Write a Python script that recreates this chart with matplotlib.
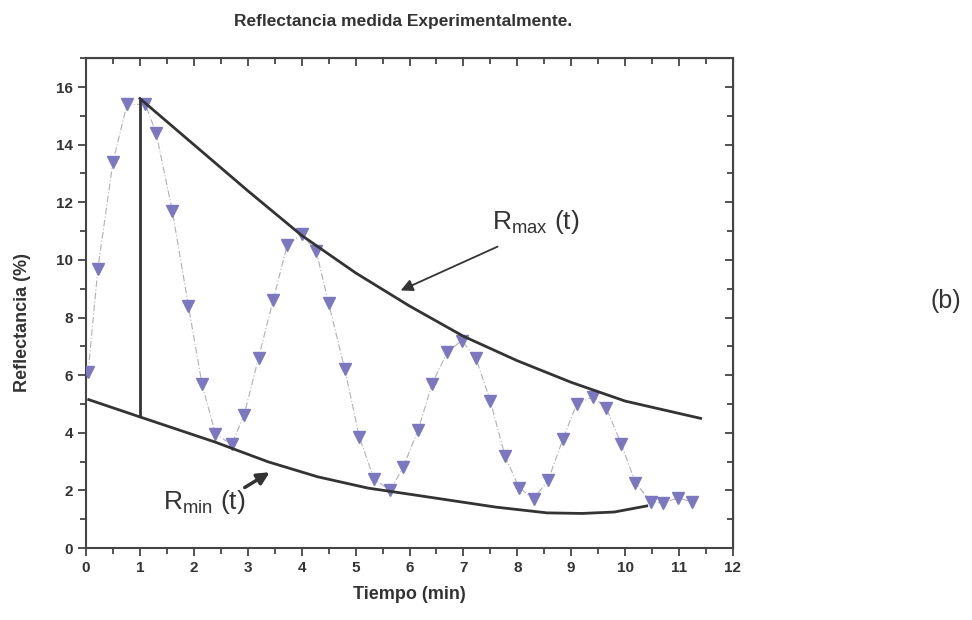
import numpy as np
import matplotlib
matplotlib.use("Agg")
import matplotlib.pyplot as plt
from matplotlib.ticker import MultipleLocator

plt.rcParams['font.family'] = ['Liberation Sans', 'DejaVu Sans']
plt.rcParams['mathtext.fontset'] = 'custom'
plt.rcParams['mathtext.rm'] = 'Liberation Sans'
plt.rcParams['mathtext.it'] = 'Liberation Sans'

# medidas experimentales
t = [0.04, 0.22, 0.5, 0.76, 1.1, 1.3, 1.6, 1.9, 2.15, 2.4, 2.7, 2.93, 3.2, 3.47,
     3.73, 4.0, 4.27, 4.5, 4.8, 5.07, 5.34, 5.64, 5.88, 6.16, 6.42, 6.7, 6.97,
     7.23, 7.5, 7.77, 8.03, 8.3, 8.57, 8.85, 9.1, 9.4, 9.65, 9.93, 10.19, 10.48,
     10.7, 10.98, 11.24]
R = [6.1, 9.7, 13.4, 15.4, 15.4, 14.4, 11.7, 8.4, 5.7, 3.96, 3.6, 4.6, 6.6, 8.6,
     10.5, 10.9, 10.3, 8.5, 6.2, 3.85, 2.4, 2.0, 2.8, 4.1, 5.7, 6.8, 7.2,
     6.6, 5.1, 3.2, 2.1, 1.7, 2.35, 3.8, 5.0, 5.25, 4.86, 3.6, 2.26, 1.6,
     1.56, 1.74, 1.6]

# envolventes
t_max = [1.0, 2.0, 3.0, 4.0, 5.0, 6.0, 7.0, 8.0, 9.0, 10.0, 11.4]
R_max = [15.6, 14.0, 12.4, 10.85, 9.55, 8.4, 7.35, 6.5, 5.75, 5.1, 4.5]
t_min = [0.05, 1.0, 2.39, 3.38, 4.3, 5.23, 6.1, 7.6, 8.55, 9.2, 9.8, 10.4]
R_min = [5.15, 4.55, 3.68, 2.99, 2.47, 2.08, 1.84, 1.42, 1.22, 1.2, 1.25, 1.46]

txt = '#333333'
fig = plt.figure(figsize=(9.72, 6.2), dpi=100)
ax = fig.add_axes([0.0885, 0.1161, 0.6656, 0.790])

ax.plot(t, R, color='#b0b0b8', lw=0.8, ls=(0, (6, 2, 1, 2)), zorder=2)
ax.plot(t, R, 'v', color='#7b78c0', ms=9, mec='#7b78c0', ls='none', zorder=3)

ax.plot(t_max, R_max, color='#333333', lw=2, zorder=4)
ax.plot(t_min, R_min, color='#333333', lw=2, zorder=4)
ax.vlines(t_max[0], R_min[1], R_max[0], color='#333333', lw=2, zorder=4)

ax.text(7.53, 11.3, r'R$_{\mathrm{max}}$ (t)', fontsize=19, color=txt, va='center')
ax.annotate('', xy=(5.79, 8.9), xytext=(7.68, 10.5),
            arrowprops=dict(arrowstyle='-|>', color='#333333', lw=1.3, mutation_scale=18))
ax.text(1.43, 1.6, r'R$_{\mathrm{min}}$ (t)', fontsize=19, color=txt, va='center')
ax.annotate('', xy=(3.45, 2.68), xytext=(2.9, 2.05),
            arrowprops=dict(arrowstyle='-|>', color='#333333', lw=2.5, mutation_scale=18))

ax.set_xlim(0, 12)
ax.set_ylim(0, 17)
ax.xaxis.set_major_locator(MultipleLocator(1))
ax.xaxis.set_minor_locator(MultipleLocator(0.5))
ax.yaxis.set_major_locator(MultipleLocator(2))
ax.yaxis.set_minor_locator(MultipleLocator(1))
ax.tick_params(which='both', direction='out', top=False, right=False,
               colors='#444444', labelcolor=txt, labelsize=11, width=1.3)
ax.tick_params(which='major', length=6)
ax.tick_params(which='minor', length=4)
for lab in ax.get_xticklabels() + ax.get_yticklabels():
    lab.set_fontweight('bold')
# ticks hacia dentro arriba y a la derecha
ax2 = ax.secondary_xaxis('top')
ax2.xaxis.set_major_locator(MultipleLocator(1))
ax2.xaxis.set_minor_locator(MultipleLocator(0.5))
ax2.tick_params(which='both', direction='in', labeltop=False, colors='#444444', width=1.3)
ax2.tick_params(which='major', length=6)
ax2.tick_params(which='minor', length=4)
ay2 = ax.secondary_yaxis('right')
ay2.yaxis.set_major_locator(MultipleLocator(2))
ay2.yaxis.set_minor_locator(MultipleLocator(1))
ay2.tick_params(which='both', direction='in', labelright=False, colors='#444444', width=1.3)
ay2.tick_params(which='major', length=6)
ay2.tick_params(which='minor', length=4)

for s in ax.spines.values():
    s.set_color('#444444')
    s.set_linewidth(1.5)

ax.set_xlabel('Tiempo (min)', fontsize=13, color=txt, fontweight='bold', labelpad=8)
ax.set_ylabel('Reflectancia (%)', fontsize=13, color=txt, fontweight='bold')
ax.yaxis.set_label_coords(-0.085, 0.46)
fig.text(0.415, 0.965, 'Reflectancia medida Experimentalmente.', fontsize=12.5,
         color=txt, fontweight='bold', ha='center', va='center')
fig.text(0.973, 0.515, '(b)', fontsize=18, color=txt, ha='center', va='center')

fig.savefig('out.png', dpi=100, facecolor='white')
